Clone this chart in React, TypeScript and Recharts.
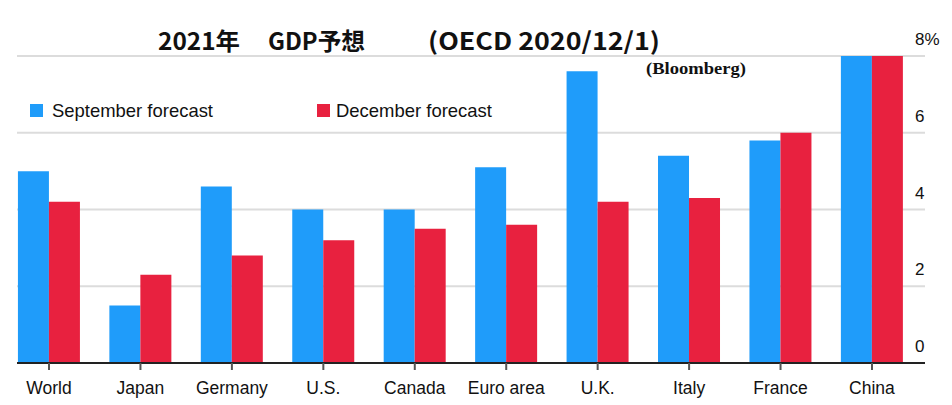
import React from 'react';
import { BarChart, Bar, XAxis, YAxis, CartesianGrid } from 'recharts';

const categories = ['World', 'Japan', 'Germany', 'U.S.', 'Canada', 'Euro area', 'U.K.', 'Italy', 'France', 'China'];
const septemberForecast = [5.0, 1.5, 4.6, 4.0, 4.0, 5.1, 7.6, 5.4, 5.8, 8.0];
const decemberForecast = [4.2, 2.3, 2.8, 3.2, 3.5, 3.6, 4.2, 4.3, 6.0, 8.0];
const yTicks = [0, 2, 4, 6, 8];

const BLUE = '#1f9cfa';
const RED = '#e8213f';
const SANS = '"Liberation Sans", Arial, sans-serif';

const data = categories.map((name, i) => ({
  name,
  september: septemberForecast[i],
  december: decemberForecast[i],
}));

const RightTick = (props: any) => {
  const { x, y, payload } = props;
  const label = payload.value === 8 ? '8%' : String(payload.value);
  return (
    <text x={x - 10} y={y - 11} textAnchor="start" fill="#111" fontSize={17} fontFamily={SANS}>
      {label}
    </text>
  );
};

export default function App() {
  return (
    <div style={{ position: 'absolute', left: 0, top: 0, width: 952, height: 405, background: '#fff' }}>
      <BarChart
        width={952}
        height={405}
        data={data}
        margin={{ top: 56, right: 0, left: 17, bottom: 0 }}
        barCategoryGap="16%"
        barGap={0}
      >
        <CartesianGrid vertical={false} stroke="#dcdcdc" strokeWidth={2} />
        <XAxis
          dataKey="name"
          height={42}
          padding={{ left: -13.7, right: 7.3 }}
          axisLine={{ stroke: '#222', strokeWidth: 2 }}
          tickLine={{ stroke: '#555', strokeWidth: 2 }}
          tickSize={7}
          tickMargin={12}
          interval={0}
          tick={{ fill: '#111', fontSize: 17.5, fontFamily: SANS }}
        />
        <YAxis
          orientation="right"
          width={27}
          domain={[0, 8]}
          ticks={yTicks}
          axisLine={false}
          tickLine={false}
          tickSize={0}
          tickMargin={0}
          tick={<RightTick />}
        />
        <Bar dataKey="september" fill={BLUE} isAnimationActive={false} />
        <Bar dataKey="december" fill={RED} isAnimationActive={false} />
      </BarChart>
      <svg
        width={952}
        height={405}
        style={{ position: 'absolute', left: 0, top: 0, pointerEvents: 'none' }}
      >
        <g fontFamily='"Noto Sans CJK JP", sans-serif' fontWeight="bold" fontSize={24} fill="#111">
          <text x={158} y={50} textLength={82} lengthAdjust="spacingAndGlyphs">2021年</text>
          <text x={268} y={50} textLength={97} lengthAdjust="spacingAndGlyphs">GDP予想</text>
          <text x={428} y={50} textLength={232} lengthAdjust="spacingAndGlyphs">(OECD 2020/12/1)</text>
        </g>
        <text
          x={646}
          y={74}
          fontFamily='"Liberation Serif", "Times New Roman", serif'
          fontWeight="bold"
          fontSize={16}
          fill="#111"
          textLength={100}
          lengthAdjust="spacingAndGlyphs"
        >
          (Bloomberg)
        </text>
        <rect x={30} y={104} width={13} height={13} fill={BLUE} />
        <text x={52} y={117} fontFamily={SANS} fontSize={18.5} fill="#111" textLength={161} lengthAdjust="spacingAndGlyphs">
          September forecast
        </text>
        <rect x={317} y={104} width={13} height={13} fill={RED} />
        <text x={336} y={117} fontFamily={SANS} fontSize={18.5} fill="#111" textLength={156} lengthAdjust="spacingAndGlyphs">
          December forecast
        </text>
      </svg>
    </div>
  );
}
